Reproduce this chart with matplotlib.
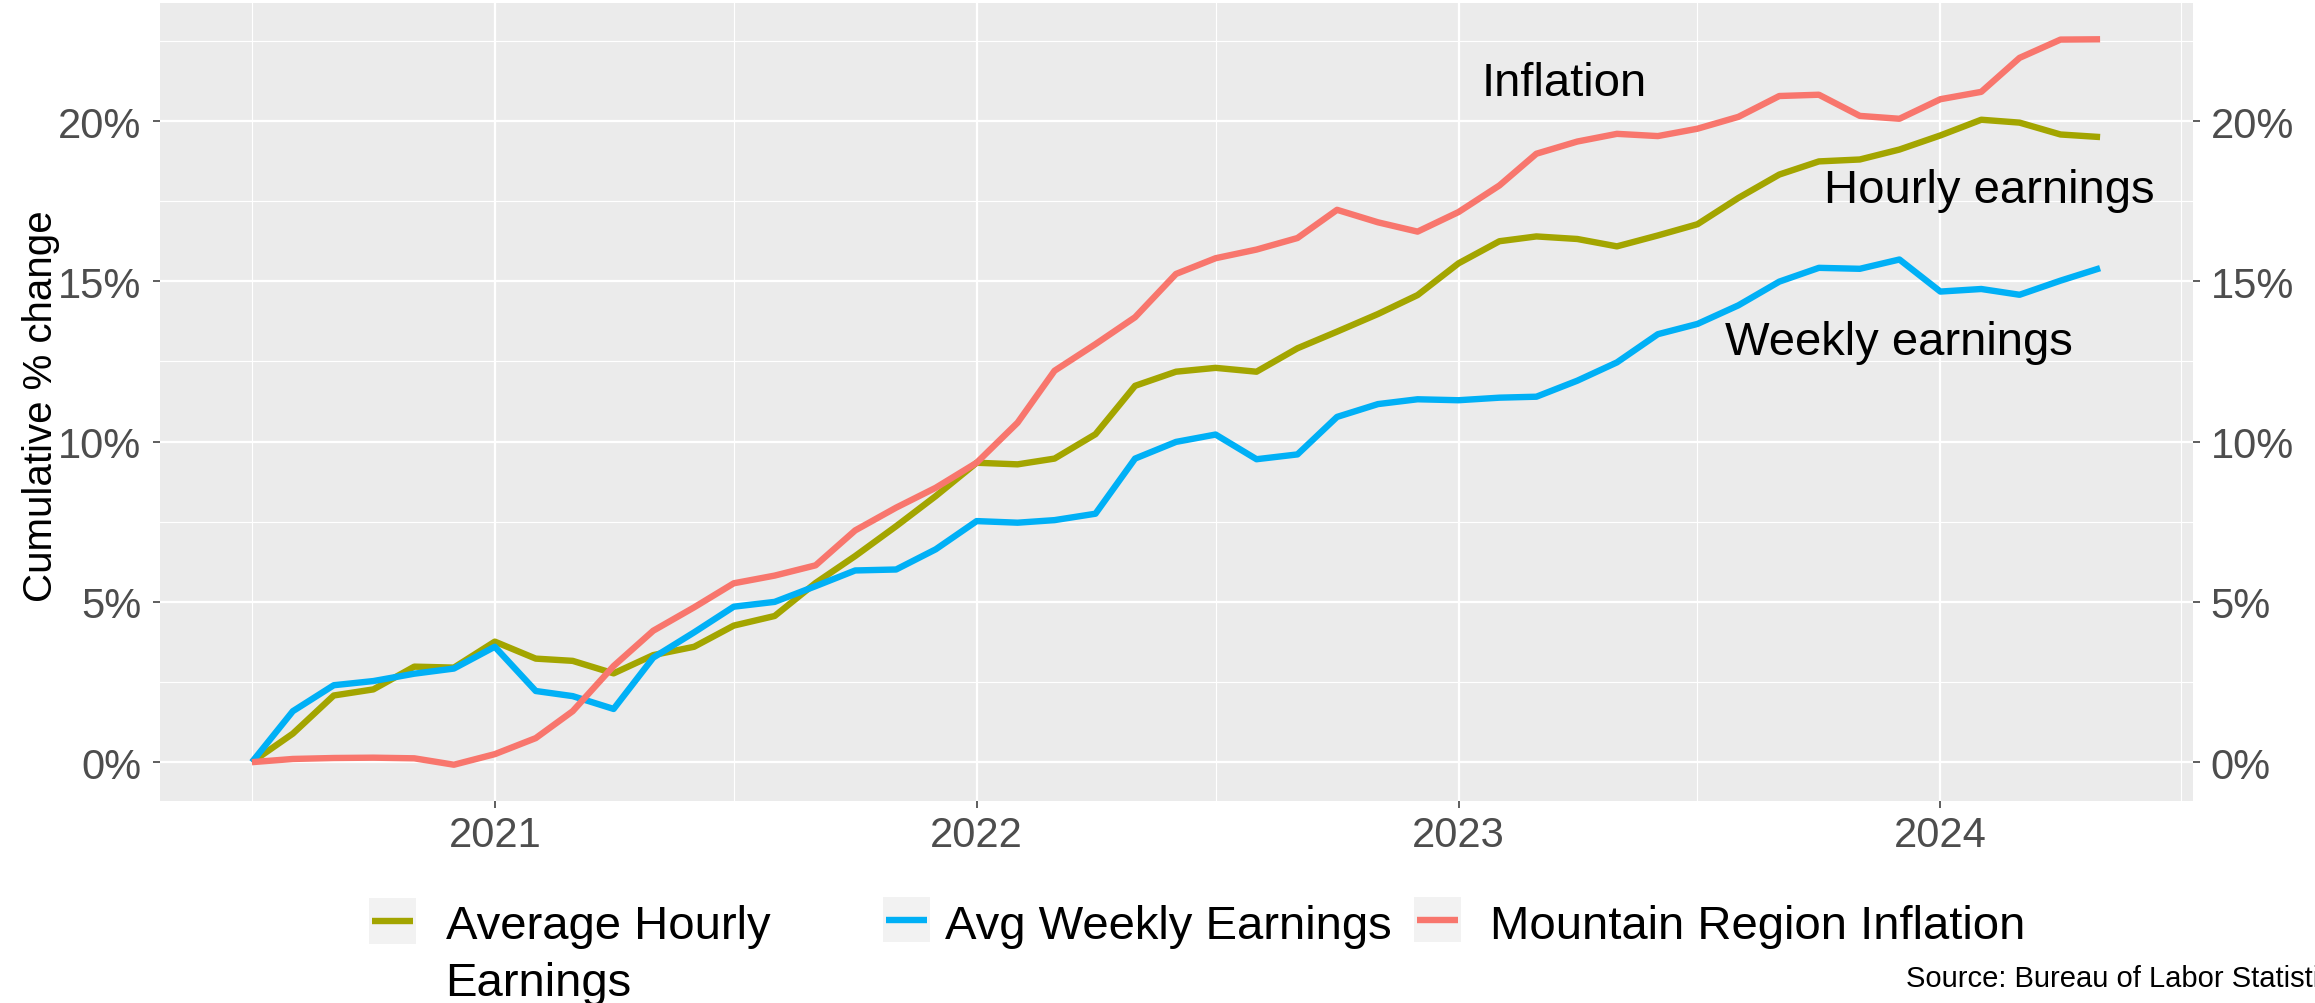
import numpy as np
import pandas as pd
import matplotlib
matplotlib.use("Agg")
import matplotlib.pyplot as plt
import matplotlib.dates as mdates
from matplotlib.patches import Rectangle
from matplotlib.lines import Line2D
from matplotlib.legend_handler import HandlerBase
from matplotlib.ticker import FuncFormatter, MultipleLocator

# ---------------- data ----------------
months = pd.date_range("2020-07-01", "2024-05-01", freq="MS")

hourly = [0.00, 0.89, 2.08, 2.27, 2.98, 2.95, 3.76, 3.23, 3.16, 2.77, 3.34, 3.60,
          4.26, 4.56, 5.59, 6.43, 7.36, 8.30, 9.34, 9.29, 9.47, 10.23, 11.74, 12.18,
          12.30, 12.18, 12.91, 13.43, 13.98, 14.57, 15.56, 16.25, 16.40, 16.32, 16.09, 16.43,
          16.78, 17.60, 18.33, 18.74, 18.80, 19.11, 19.55, 20.04, 19.95, 19.58, 19.50]

weekly = [0.00, 1.59, 2.40, 2.53, 2.76, 2.92, 3.60, 2.22, 2.06, 1.66, 3.26, 4.05,
          4.85, 5.00, 5.49, 5.98, 6.01, 6.64, 7.52, 7.47, 7.55, 7.75, 9.47, 9.99,
          10.22, 9.45, 9.60, 10.77, 11.17, 11.32, 11.29, 11.37, 11.40, 11.90, 12.47, 13.35,
          13.67, 14.25, 14.99, 15.42, 15.39, 15.68, 14.68, 14.76, 14.58, 15.02, 15.41]

inflation = [0.00, 0.10, 0.13, 0.14, 0.12, -0.08, 0.25, 0.75, 1.59, 3.00, 4.10, 4.83,
             5.58, 5.82, 6.14, 7.23, 7.94, 8.56, 9.34, 10.59, 12.21, 13.04, 13.88, 15.23,
             15.72, 15.99, 16.35, 17.23, 16.84, 16.55, 17.16, 17.99, 18.98, 19.36, 19.60, 19.53,
             19.76, 20.13, 20.78, 20.82, 20.16, 20.07, 20.68, 20.91, 21.97, 22.54, 22.55]

series_labels = ["Average Hourly\nEarnings", "Avg Weekly Earnings", "Mountain Region Inflation"]
series_colors = ["#A3A500", "#00B0F6", "#F8766D"]

annotations = [("Inflation", "2023-03-22", 21.2),
               ("Hourly earnings", "2024-02-07", 17.85),
               ("Weekly earnings", "2023-12-01", 13.1)]

y_label = "Cumulative % change"
source_text = "Source: Bureau of Labor Statistics"

# ---------------- figure ----------------
W, H = 2315, 1004
fig = plt.figure(figsize=(W / 100, H / 100), dpi=100)
plt.rcParams["font.family"] = ["Liberation Sans", "DejaVu Sans"]

ax = fig.add_axes([159.5 / W, 1 - 802 / H, (2192.5 - 159.5) / W, (802 - 4) / H])
ax.set_facecolor("#EBEBEB")
for s in ax.spines.values():
    s.set_visible(False)

lines = []
for vals, lab, col in zip([hourly, weekly, inflation], series_labels, series_colors):
    ln, = ax.plot(months, vals, color=col, lw=4.6, label=lab,
                  solid_joinstyle="round", solid_capstyle="butt", zorder=3)
    lines.append(ln)

# limits with ggplot-like 5% expansion
x0 = mdates.date2num(months[0]); x1 = mdates.date2num(months[-1])
dx = (x1 - x0) * 0.05
ax.set_xlim(x0 - dx, x1 + dx)
allv = np.concatenate([hourly, weekly, inflation])
ymin, ymax = allv.min(), allv.max()
dy = (ymax - ymin) * 0.05
ax.set_ylim(ymin - dy, ymax + dy)

# ticks
ax.xaxis.set_major_locator(mdates.YearLocator())
ax.xaxis.set_minor_locator(mdates.MonthLocator(bymonth=7))
ax.xaxis.set_major_formatter(mdates.DateFormatter("%Y"))
ax.yaxis.set_major_locator(MultipleLocator(5))
ax.yaxis.set_minor_locator(MultipleLocator(2.5))
ax.yaxis.set_major_formatter(FuncFormatter(lambda v, p: f"{v:.0f}%"))

ax.grid(which="major", color="white", lw=1.6)
ax.grid(which="minor", color="white", lw=0.8)
ax.set_axisbelow(True)

ax.tick_params(axis="both", which="major", length=5, width=1.1, color="#333333",
               labelcolor="#4D4D4D", labelsize=30)
ax.tick_params(axis="y", which="major", pad=8, left=True, right=True,
               labelleft=True, labelright=True)
ax.tick_params(axis="x", which="major", pad=5)
ax.tick_params(which="minor", length=0)

fig.text(41 / W, 1 - 406 / H, y_label, rotation=90, ha="center", va="center",
         fontsize=29, color="black")

for txt, d, v in annotations:
    ax.text(pd.Timestamp(d), v, txt, ha="center", va="center", fontsize=34, color="black")

# ---------------- legend ----------------
class KeyHandler(HandlerBase):
    def __init__(self, yshift=0.0):
        super().__init__()
        self.yshift = yshift

    def create_artists(self, legend, orig_handle, xdescent, ydescent, width, height,
                       fontsize, trans):
        y0 = -ydescent + self.yshift * fontsize
        kh = 0.97 * fontsize
        rect = Rectangle((-xdescent, y0), width, kh, facecolor="#F2F2F2",
                         edgecolor="none", transform=trans)
        ln = Line2D([-xdescent + 0.07 * width, -xdescent + 0.93 * width],
                    [y0 + kh / 2, y0 + kh / 2], color=orig_handle.get_color(),
                    lw=orig_handle.get_linewidth(), solid_capstyle="butt", transform=trans)
        return [rect, ln]

# (series index, key left px, legend centre (fig frac), key shift, text pad)
leg_specs = [(0, 369, 0.0485, 0.685, 0.62),
             (1, 883, 0.0788, 0.0, 0.31),
             (2, 1414, 0.0788, 0.0, 0.62)]
for idx, xleft, yc, shift, tpad in leg_specs:
    leg = fig.legend(handles=[lines[idx]], labels=[series_labels[idx]],
                     loc="center left", bbox_to_anchor=(xleft / W, yc),
                     frameon=False, borderpad=0, borderaxespad=0,
                     handlelength=1.0, handleheight=1.0, handletextpad=tpad,
                     fontsize=34, handler_map={Line2D: KeyHandler(shift)})
    for t in leg.get_texts():
        t.set_linespacing(1.39)

fig.text(1906 / W, 1 - 979 / H, source_text, ha="left", va="center", fontsize=21,
         color="black")

fig.savefig("out.png", dpi=100)
